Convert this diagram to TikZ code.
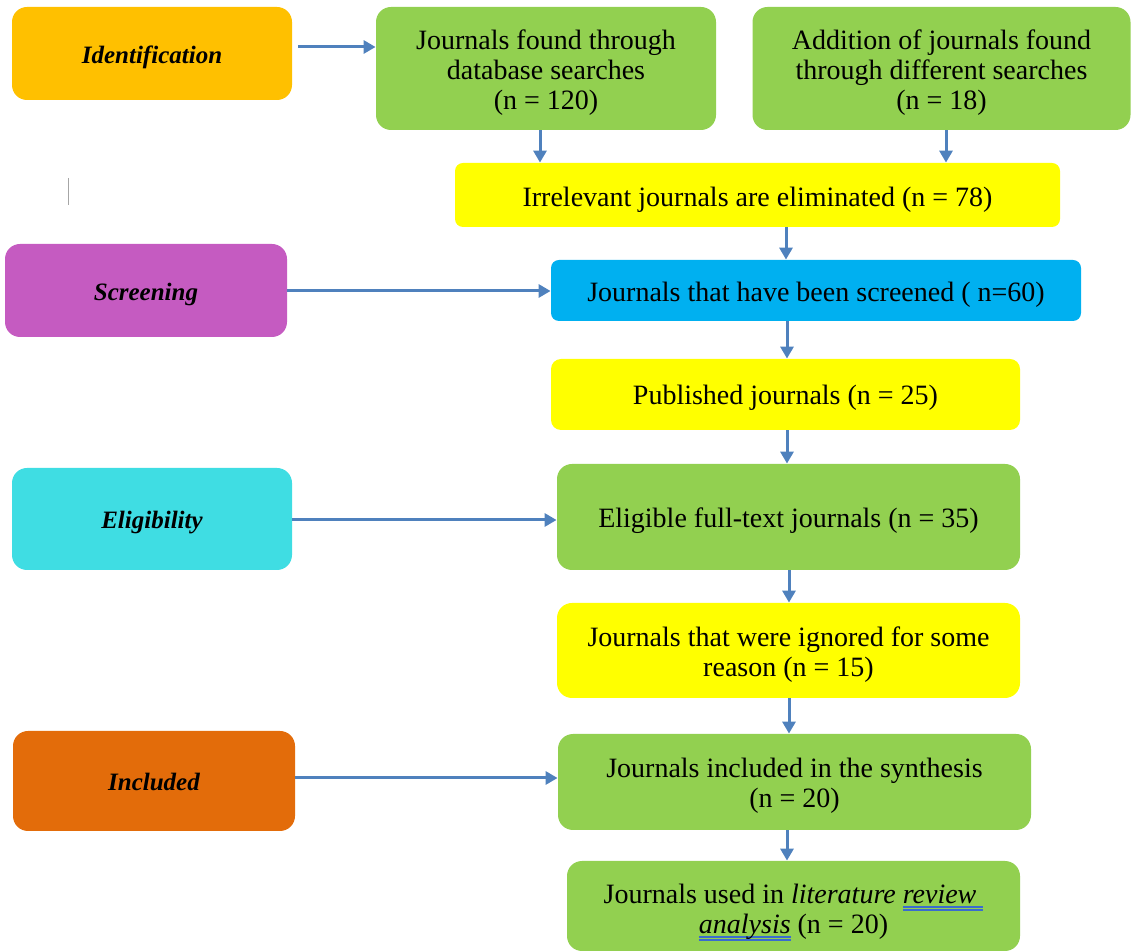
\documentclass[tikz,border=0pt]{standalone}
\usepackage{fontspec}
\setmainfont{Liberation Serif}
\usetikzlibrary{arrows.meta}
\definecolor{cIdent}{HTML}{FFC000}
\definecolor{cScreen}{HTML}{C55BC1}
\definecolor{cElig}{HTML}{3FDDE3}
\definecolor{cIncl}{HTML}{E36C0A}
\definecolor{cGreen}{HTML}{92D050}
\definecolor{cYellow}{HTML}{FFFF00}
\definecolor{cBlue}{HTML}{00B0F0}
\definecolor{cArrow}{HTML}{4F81BD}
\definecolor{cUline}{HTML}{3A6BD0}
\newsavebox{\ulbox}
\newcommand\bluuline[1]{\leavevmode\sbox{\ulbox}{#1}\rlap{\color{cUline}\rule[-2.0pt]{\wd\ulbox}{0.7pt}}\rlap{\color{cUline}\rule[-3.4pt]{\wd\ulbox}{0.7pt}}\usebox{\ulbox}}
\begin{document}
\begin{tikzpicture}[x=0.5pt,y=-0.5pt,
  stage/.style={rounded corners=7.5pt, inner sep=0pt},
  stagetext/.style={inner sep=0pt, text=black,
    font=\fontsize{12.5}{15}\selectfont\bfseries\itshape},
  box/.style={rounded corners=7.5pt, inner sep=0pt},
  boxtext/.style={inner sep=0pt, align=center, text=black,
    font=\fontsize{14}{15}\selectfont},
  arr/.style={draw=cArrow, line width=1.5pt, -{Triangle[length=6pt,width=6.5pt]}}]
\useasboundingbox (0,0) rectangle (1131,951);
% stage labels
\node[stage, fill=cIdent, minimum width=140pt, minimum height=46.5pt] (ident) at (152,53.5) {};
\node[stagetext] (ident-t) at ([yshift=-2pt]ident.center) {Identification};
\node[stage, fill=cScreen, minimum width=141pt, minimum height=46.5pt] (screen) at (146,290.5) {};
\node[stagetext] (screen-t) at ([yshift=-2pt]screen.center) {Screening};
\node[stage, fill=cElig, minimum width=140pt, minimum height=51pt] (elig) at (152,519) {};
\node[stagetext] (elig-t) at ([yshift=-2pt]elig.center) {Eligibility};
\node[stage, fill=cIncl, minimum width=141pt, minimum height=50pt] (incl) at (154,781) {};
\node[stagetext] (incl-t) at ([yshift=-0.5pt]incl.center) {Included};
% flow boxes
\node[box, fill=cGreen, minimum width=170pt, minimum height=61.5pt] (found) at (546,68.5) {};
\node[boxtext] (found-t) at ([yshift=-2pt]found.center) {Journals found through\\database searches\\(n = 120)};
\node[box, fill=cGreen, minimum width=189pt, minimum height=61.5pt] (addit) at (941.5,68.5) {};
\node[boxtext] (addit-t) at ([yshift=-2pt]addit.center) {Addition of journals found\\through different searches\\(n = 18)};
\node[box, fill=cYellow, rounded corners=4pt, minimum width=302.5pt, minimum height=32pt] (irrel) at (757.5,195) {};
\node[boxtext] (irrel-t) at ([yshift=-2.2pt]irrel.center) {Irrelevant journals are eliminated (n = 78)};
\node[box, fill=cBlue, rounded corners=4pt, minimum width=265pt, minimum height=30.5pt] (scr) at (816,290.5) {};
\node[boxtext] (scr-t) at ([yshift=-2.3pt]scr.center) {Journals that have been screened ( n=60)};
\node[box, fill=cYellow, rounded corners=5pt, minimum width=234.5pt, minimum height=35.5pt] (pub) at (785.5,394.5) {};
\node[boxtext] (pub-t) at ([yshift=-1.5pt]pub.center) {Published journals (n = 25)};
\node[box, fill=cGreen, minimum width=231.5pt, minimum height=53pt] (eligj) at (788.5,517) {};
\node[boxtext] (eligj-t) at ([yshift=-2pt]eligj.center) {Eligible full-text journals (n = 35)};
\node[box, fill=cYellow, minimum width=231.5pt, minimum height=47.5pt] (ign) at (788.5,650.5) {};
\node[boxtext] (ign-t) at ([yshift=-2pt]ign.center) {Journals that were ignored for some\\reason (n = 15)};
\node[box, fill=cGreen, minimum width=236.5pt, minimum height=48pt] (synth) at (794.5,782) {};
\node[boxtext] (synth-t) at ([yshift=-2pt]synth.center) {Journals included in the synthesis\\(n = 20)};
\node[box, fill=cGreen, minimum width=226.5pt, minimum height=45pt] (used) at (793.5,906) {};
\node[boxtext] (used-t) at ([yshift=-3.2pt]used.center) {Journals used in \textit{literature} \bluuline{\textit{review}\ }\\\bluuline{\textit{analysis}} (n = 20)};
% horizontal connectors
\draw[arr] (ident.east |- 0,47) ++(6,0) -- (found.west |- 0,47);
\draw[arr] (screen.east |- 0,291) -- (scr.west |- 0,291);
\draw[arr] (elig.east |- 0,520) -- (eligj.west |- 0,520);
\draw[arr] (incl.east |- 0,778) -- (synth.west |- 0,778);
% vertical connectors
\draw[arr] (found.south -| 540,0) -- (irrel.north -| 540,0);
\draw[arr] (addit.south -| 946,0) -- (irrel.north -| 946,0);
\draw[arr] (irrel.south -| 786,0) -- (scr.north -| 786,0);
\draw[arr] (scr.south -| 787,0) -- (pub.north -| 787,0);
\draw[arr] (pub.south -| 787,0) -- (eligj.north -| 787,0);
\draw[arr] (eligj.south -| 789,0) -- (ign.north -| 789,0);
\draw[arr] (ign.south -| 789,0) -- (synth.north -| 789,0);
\draw[arr] (synth.south -| 787,0) -- (used.north -| 787,0);
% stray text cursor mark
\draw[gray!70, line width=0.7pt] (68.5,178) -- (68.5,205);
\end{tikzpicture}
\end{document}
